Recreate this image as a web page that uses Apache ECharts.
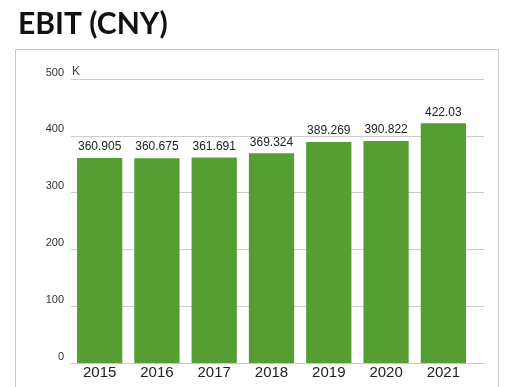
<!DOCTYPE html>
<html>
<head>
<meta charset="utf-8">
<script src="https://cdn.jsdelivr.net/npm/echarts@6/dist/echarts.min.js"></script>
<style>
  html, body { margin: 0; padding: 0; background: #fff; }
  #chart { width: 505px; height: 387px; }
</style>
</head>
<body>
<div id="chart"></div>
<script>
// EBIT by year, in thousands of CNY
const years = ['2015', '2016', '2017', '2018', '2019', '2020', '2021'];
const ebit = [360.905, 360.675, 361.691, 369.324, 389.269, 390.822, 422.03];
const yTicks = [0, 100, 200, 300, 400, 500];

const yMin = yTicks[0];
const yMax = yTicks[yTicks.length - 1];
const yStep = yTicks[1] - yTicks[0];

const chart = echarts.init(document.getElementById('chart'), null, { renderer: 'canvas' });

chart.setOption({
  animation: false,
  backgroundColor: '#ffffff',
  title: {
    text: 'EBIT (CNY)',
    left: 13,
    top: 4,
    textStyle: { fontFamily: 'Lato', fontWeight: 'bold', fontSize: 30, color: '#111111' }
  },
  graphic: [
    {
      type: 'rect',
      shape: { x: 15.5, y: 49.5, width: 483, height: 360 },
      style: { fill: 'none', stroke: '#c8c8c8', lineWidth: 1 },
      z: 0
    },
    {
      type: 'text',
      left: 72,
      top: 66,
      style: { text: 'K', fontFamily: 'Arial, Liberation Sans', fontSize: 12, fill: '#444444' }
    }
  ],
  grid: [
    // bars
    { left: 71, right: 33, top: 79, bottom: 24 },
    // grid lines and baseline
    { left: 71, right: 21, top: 79, bottom: 24 }
  ],
  xAxis: [
    {
      gridIndex: 0,
      type: 'category',
      data: years,
      axisLine: { show: false },
      axisTick: { show: false },
      axisLabel: {
        fontFamily: 'Arial, Liberation Sans',
        fontSize: 15,
        color: '#222222',
        margin: 2
      }
    },
    {
      gridIndex: 1,
      type: 'value',
      min: 0,
      max: 1,
      axisLine: { show: true, lineStyle: { color: '#c8c8c8', width: 1 } },
      axisTick: { show: false },
      axisLabel: { show: false },
      splitLine: { show: false }
    }
  ],
  yAxis: [
    {
      gridIndex: 0,
      type: 'value',
      min: yMin,
      max: yMax,
      interval: yStep,
      show: false,
      splitLine: { show: false }
    },
    {
      gridIndex: 1,
      type: 'value',
      min: yMin,
      max: yMax,
      interval: yStep,
      axisLine: { show: false },
      axisTick: { show: false },
      axisLabel: {
        fontFamily: 'Arial, Liberation Sans',
        fontSize: 11,
        color: '#333333',
        margin: 7,
        verticalAlign: 'bottom',
        lineHeight: 13
      },
      splitLine: { show: true, lineStyle: { color: '#cccccc', width: 1 } }
    }
  ],
  series: [
    {
      type: 'bar',
      xAxisIndex: 0,
      yAxisIndex: 0,
      data: ebit,
      barCategoryGap: '21%',
      itemStyle: { color: '#569e32' },
      label: {
        show: true,
        position: 'top',
        distance: 5,
        fontFamily: 'Arial, Liberation Sans',
        fontSize: 12,
        color: '#222222',
        formatter: p => String(p.value)
      },
      z: 3
    }
  ]
});
</script>
</body>
</html>
